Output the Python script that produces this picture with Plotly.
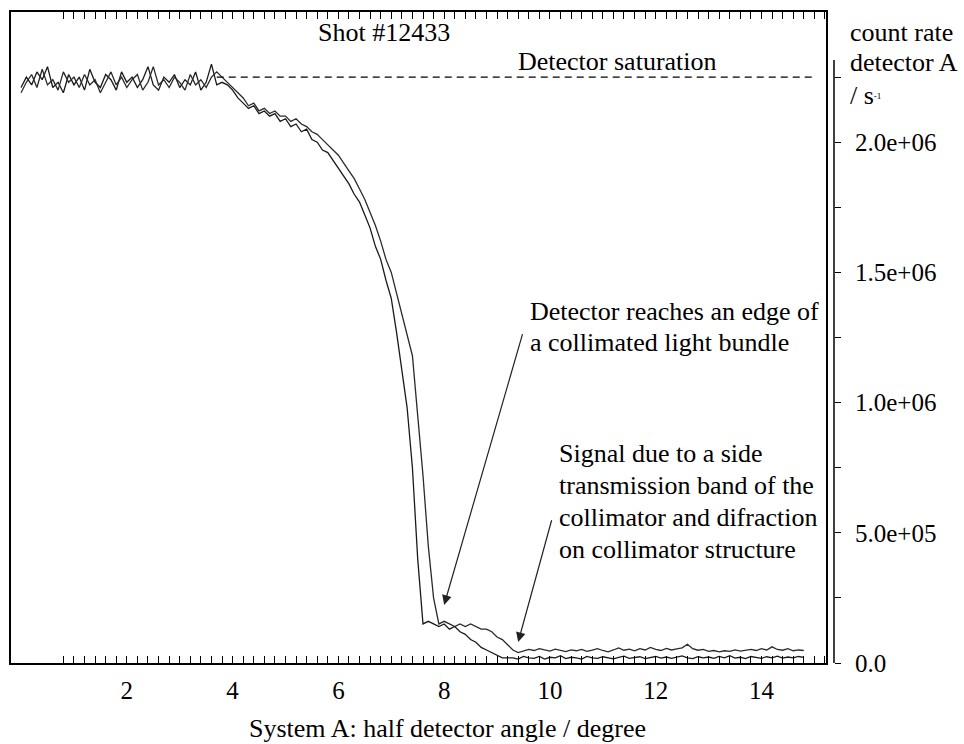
import plotly.graph_objects as go

# ---------------- data ----------------
angle_deg = [0.0, 0.1, 0.2, 0.3, 0.4, 0.5, 0.6, 0.7, 0.8, 0.9,
             1.0, 1.1, 1.2, 1.3, 1.4, 1.5, 1.6, 1.7, 1.8, 1.9,
             2.0, 2.1, 2.2, 2.3, 2.4, 2.5, 2.6, 2.7, 2.8, 2.9,
             3.0, 3.1, 3.2, 3.3, 3.4, 3.5, 3.6, 3.7, 3.8, 3.9,
             4.0, 4.1, 4.2, 4.3, 4.4, 4.5, 4.6, 4.7, 4.8, 4.9,
             5.0, 5.1, 5.2, 5.3, 5.4, 5.5, 5.6, 5.7, 5.8, 5.9,
             6.0, 6.1, 6.2, 6.3, 6.4, 6.5, 6.6, 6.7, 6.8, 6.9,
             7.0, 7.1, 7.2, 7.3, 7.4, 7.5, 7.6, 7.7, 7.8, 7.9,
             8.0, 8.1, 8.2, 8.3, 8.4, 8.5, 8.6, 8.7, 8.8, 8.9,
             9.0, 9.1, 9.2, 9.3, 9.4, 9.5, 9.6, 9.7, 9.8, 9.9,
             10.0, 10.1, 10.2, 10.3, 10.4, 10.5, 10.6, 10.7, 10.8, 10.9,
             11.0, 11.1, 11.2, 11.3, 11.4, 11.5, 11.6, 11.7, 11.8, 11.9,
             12.0, 12.1, 12.2, 12.3, 12.4, 12.5, 12.6, 12.7, 12.8, 12.9,
             13.0, 13.1, 13.2, 13.3, 13.4, 13.5, 13.6, 13.7, 13.8, 13.9,
             14.0, 14.1, 14.2, 14.3, 14.4, 14.5, 14.6, 14.7, 14.8]

# count rate in units of 1e6 /s, scan 1 (edge reached earlier)
rate_scan1_M = [
    2.21, 2.25, 2.22, 2.27, 2.24, 2.29, 2.21, 2.23, 2.19, 2.26,
    2.22, 2.25, 2.20, 2.28, 2.23, 2.21, 2.26, 2.24, 2.20, 2.27,
    2.23, 2.25, 2.21, 2.24, 2.29, 2.22, 2.20, 2.25, 2.23, 2.26,
    2.21, 2.24, 2.22, 2.27, 2.20, 2.23, 2.30, 2.22, 2.23, 2.22,
    2.20, 2.17, 2.15, 2.13, 2.14, 2.11, 2.12, 2.10, 2.11, 2.08,
    2.09, 2.06, 2.07, 2.04, 2.05, 2.01, 2.00, 1.97, 1.96, 1.93,
    1.90, 1.87, 1.84, 1.80, 1.77, 1.72, 1.67, 1.60, 1.55, 1.47,
    1.40, 1.27, 1.13, 0.98, 0.75, 0.40, 0.15, 0.16, 0.15, 0.14,
    0.15, 0.13, 0.14, 0.12, 0.11, 0.09, 0.08, 0.06, 0.05, 0.04,
    0.03, 0.02, 0.02, 0.020, 0.015, 0.025, 0.020, 0.018, 0.025, 0.015,
    0.022, 0.020, 0.028, 0.017, 0.022, 0.020, 0.015, 0.025, 0.020, 0.018,
    0.024, 0.020, 0.016, 0.022, 0.026, 0.018, 0.020, 0.024, 0.017, 0.021,
    0.025, 0.019, 0.023, 0.018, 0.022, 0.027, 0.020, 0.017, 0.024, 0.020,
    0.023, 0.018, 0.025, 0.020, 0.028, 0.019, 0.022, 0.017, 0.025, 0.021,
    0.018, 0.024, 0.020, 0.026, 0.019, 0.023, 0.020, 0.025, 0.022]

# scan 2 (edge reached later)
rate_scan2_M = [
    2.19, 2.23, 2.26, 2.21, 2.28, 2.22, 2.24, 2.20, 2.27, 2.23,
    2.25, 2.21, 2.26, 2.22, 2.24, 2.19, 2.23, 2.27, 2.22, 2.25,
    2.21, 2.24, 2.26, 2.20, 2.23, 2.29, 2.22, 2.24, 2.21, 2.25,
    2.23, 2.20, 2.26, 2.22, 2.24, 2.21, 2.25, 2.27, 2.25, 2.23,
    2.21, 2.19, 2.17, 2.14, 2.15, 2.12, 2.13, 2.11, 2.12, 2.10,
    2.10, 2.08, 2.09, 2.07, 2.06, 2.04, 2.03, 2.01, 1.99, 1.97,
    1.95, 1.92, 1.89, 1.86, 1.82, 1.78, 1.73, 1.68, 1.62, 1.55,
    1.50, 1.42, 1.33, 1.26, 1.18, 0.95, 0.72, 0.45, 0.25, 0.15,
    0.16, 0.15, 0.14, 0.15, 0.14, 0.15, 0.14, 0.13, 0.13, 0.12,
    0.10, 0.09, 0.07, 0.05, 0.04, 0.045, 0.052, 0.048, 0.055, 0.050,
    0.046, 0.053, 0.049, 0.044, 0.050, 0.047, 0.052, 0.045, 0.049, 0.055,
    0.048, 0.043, 0.050, 0.058, 0.049, 0.053, 0.047, 0.055, 0.050, 0.060,
    0.052, 0.048, 0.056, 0.050, 0.054, 0.058, 0.072, 0.055, 0.049, 0.052,
    0.045, 0.048, 0.043, 0.047, 0.045, 0.050, 0.046, 0.049, 0.052, 0.048,
    0.055, 0.050, 0.062, 0.052, 0.049, 0.055, 0.047, 0.050, 0.048]

assert len(angle_deg) == len(rate_scan1_M) == len(rate_scan2_M), (
    len(angle_deg), len(rate_scan1_M), len(rate_scan2_M))

saturation_level = 2.25e6
saturation_x = [3.7, 14.97]

x_tick_vals = [2, 4, 6, 8, 10, 12, 14]
x_tick_text = ["2", "4", "6", "8", "10", "12", "14"]
y_tick_vals = [0, 2.5e5, 5e5, 7.5e5, 1e6, 1.25e6, 1.5e6, 1.75e6, 2e6, 2.25e6]
y_tick_text = ["0.0", "", "5.0e+05", "", "1.0e+06", "", "1.5e+06", "", "2.0e+06", ""]

# ---------------- figure ----------------
FONT = "Liberation Serif"
scan1 = [v * 1e6 for v in rate_scan1_M]
scan2 = [v * 1e6 for v in rate_scan2_M]

fig = go.Figure()
fig.add_trace(go.Scatter(x=angle_deg, y=scan1, mode="lines",
                         line=dict(color="#1a1a1a", width=1.3)))
fig.add_trace(go.Scatter(x=angle_deg, y=scan2, mode="lines",
                         line=dict(color="#2a2a2a", width=1.3)))
fig.add_trace(go.Scatter(x=saturation_x, y=[saturation_level] * 2, mode="lines",
                         yaxis="y2",
                         line=dict(color="black", width=1.2, dash="7px,5px")))

minor_x = [round(0.8 + 0.2 * i, 1) for i in range(73)]

fig.update_layout(
    width=964, height=744,
    margin=dict(l=11, r=130, t=12, b=81),
    plot_bgcolor="white", paper_bgcolor="white",
    showlegend=False,
    font=dict(family=FONT, color="black", size=25),
    xaxis=dict(domain=[0, 0.99028], range=[-0.19, 15.22],
               showline=True, linecolor="black", linewidth=1.5,
               mirror="allticks", ticks="inside", ticklen=7, tickwidth=1,
               tickcolor="black",
               tickvals=x_tick_vals, ticktext=x_tick_text,
               minor=dict(ticks="inside", ticklen=4, tickwidth=1,
                          tickcolor="black", tickvals=minor_x),
               showgrid=False, zeroline=False,
               tickfont=dict(size=25, family=FONT),
               ticklabelstandoff=4),
    yaxis=dict(range=[0, 2.5e6], showline=True, linecolor="black",
               linewidth=1.5, mirror=True, ticks="",
               showticklabels=False, showgrid=False, zeroline=False),
    yaxis2=dict(overlaying="y", side="right", anchor="free", position=1.0,
                range=[0, 2.5e6], showline=False,
                ticks="outside", ticklen=6, tickwidth=1, tickcolor="black",
                tickvals=y_tick_vals, ticktext=y_tick_text,
                showgrid=False, zeroline=False,
                tickfont=dict(size=25, family=FONT),
                ticklabelstandoff=9),
)

# right axis line (only up to the top tick region)
fig.add_shape(type="line", xref="paper", yref="y", x0=1.0, x1=1.0,
              y0=0, y1=2.316e6, line=dict(color="black", width=1.5))

ann = []
def txt(x, y, s, xref="x", yref="y", xanchor="left", size=26):
    ann.append(dict(x=x, y=y, xref=xref, yref=yref, text=s, showarrow=False,
                    xanchor=xanchor, yanchor="middle",
                    font=dict(family=FONT, size=size, color="black")))

txt(6.86, 2.42e6, "Shot #12433", xanchor="center")
txt(11.27, 2.31e6, "Detector saturation", xanchor="center")
txt(9.58, 1.35e6, "Detector reaches an edge of")
txt(9.58, 1.231e6, "a collimated light bundle")
txt(10.13, 0.804e6, "Signal due to a side")
txt(10.13, 0.681e6, "transmission band of the")
txt(10.13, 0.558e6, "collimator and difraction")
txt(10.13, 0.435e6, "on collimator structure")
txt(1.017, 0.968, "count rate", xref="paper", yref="paper")
txt(1.017, 0.922, "detector A", xref="paper", yref="paper")
txt(1.017, 0.872, "/ s<span style='font-size:13px'><sup>-1</sup></span>",
    xref="paper", yref="paper")
txt(0.53, -0.100, "System A: half detector angle / degree",
    xref="paper", yref="paper", xanchor="center", size=26)

for hx, hy, tx, ty in [(8.0, 0.223e6, 9.49, 1.269e6),
                       (9.40, 0.081e6, 10.04, 0.554e6)]:
    ann.append(dict(x=hx, y=hy, xref="x", yref="y", ax=tx, ay=ty,
                    axref="x", ayref="y", showarrow=True, text="",
                    arrowhead=2, arrowsize=1.6, arrowwidth=1.2,
                    arrowcolor="#222"))

fig.update_layout(annotations=ann)
fig.write_html("out.html")
